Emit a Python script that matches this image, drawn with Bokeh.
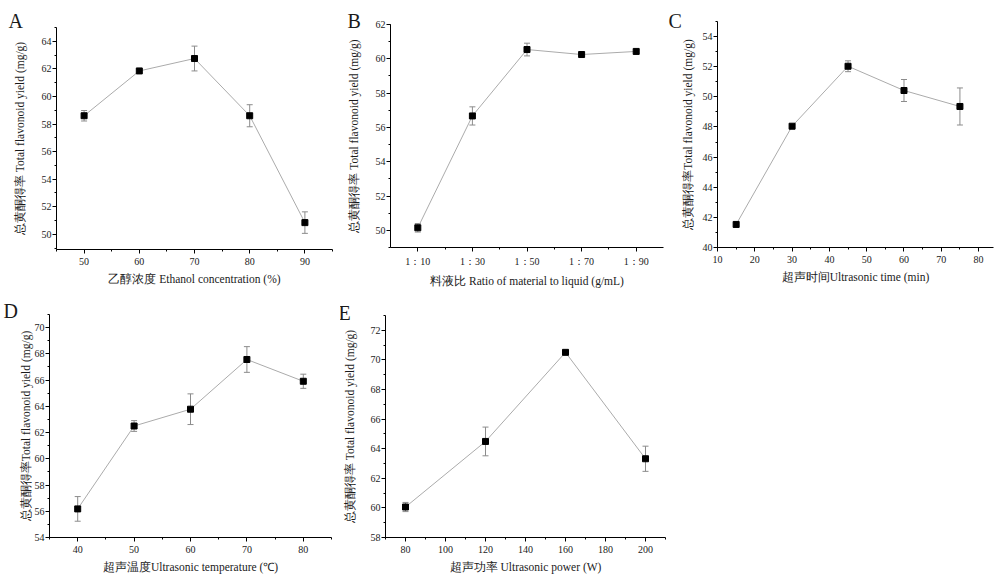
from bokeh.plotting import figure
from bokeh.layouts import column, row
from bokeh.models import (ColumnDataSource, Whisker, TeeHead, Range1d, Title,
                          SingleIntervalTicker, FixedTicker, CustomJSTickFormatter)
from bokeh.embed import file_html
from bokeh.resources import INLINE

# ---- data ----
# A: ethanol concentration
ethanol = [50, 60, 70, 80, 90]
yield_a = [58.6, 61.85, 62.75, 58.6, 50.85]
err_a = [0.38, 0.1, 0.9, 0.8, 0.78]
# B: material-to-liquid ratio
ratio_liquid = [10, 30, 50, 70, 90]
ratio_labels = ["1：10", "1：30", "1：50", "1：70", "1：90"]
yield_b = [50.15, 56.67, 60.54, 60.25, 60.43]
err_b = [0.25, 0.53, 0.37, 0.08, 0.1]
# C: ultrasonic time
time_min = [15, 30, 45, 60, 75]
yield_c = [41.53, 48.05, 52.03, 50.42, 49.36]
err_c = [0.1, 0.1, 0.36, 0.73, 1.23]
# D: ultrasonic temperature
temp_c = [40, 50, 60, 70, 80]
yield_d = [56.18, 62.5, 63.78, 67.57, 65.91]
err_d = [0.94, 0.41, 1.17, 0.98, 0.54]
# E: ultrasonic power
power_w = [80, 120, 160, 200]
yield_e = [60.06, 64.49, 70.51, 63.32]
err_e = [0.31, 0.97, 0.1, 0.85]

FONT = "Liberation Serif"
TXT = "#1a1a1a"
LINE = "#ababab"
ERR = "#8c8c8c"


def panel(letter, x, y, err, xr, yr, xticker, yint, xlabel, ylabel,
          width, height, bl, br, bt, bb, ylab_standoff, letter_dx, letter_dy,
          formatter=None):
    p = figure(width=width, height=height,
               x_range=Range1d(*xr), y_range=Range1d(*yr),
               output_backend="svg", toolbar_location=None,
               min_border_left=bl, min_border_right=br,
               min_border_top=bt, min_border_bottom=bb)
    p.outline_line_color = None
    p.xgrid.visible = False
    p.ygrid.visible = False
    xax = p.xaxis[0]
    yax = p.yaxis[0]
    xax.ticker = xticker
    yax.ticker = SingleIntervalTicker(interval=yint, num_minor_ticks=2)
    if formatter is not None:
        xax.formatter = formatter
    for ax in (xax, yax):
        ax.axis_line_color = "black"
        ax.axis_line_width = 1
        ax.major_tick_line_color = "black"
        ax.minor_tick_line_color = "black"
        ax.major_tick_out = 4
        ax.major_tick_in = 0
        ax.minor_tick_out = 2
        ax.minor_tick_in = 0
        ax.major_label_text_font = FONT
        ax.major_label_text_font_size = "10px"
        ax.major_label_text_color = TXT
        ax.axis_label_text_font = FONT
        ax.axis_label_text_font_size = "11.5px"
        ax.axis_label_text_font_style = "normal"
        ax.axis_label_text_color = TXT
    xax.major_label_standoff = 4
    yax.major_label_standoff = 1
    xax.axis_label = xlabel
    yax.axis_label = ylabel
    xax.axis_label_standoff = 5
    yax.axis_label_standoff = ylab_standoff

    src = ColumnDataSource(dict(
        x=x, y=y,
        upper=[v + e for v, e in zip(y, err)],
        lower=[v - e for v, e in zip(y, err)]))
    wh = Whisker(base="x", upper="upper", lower="lower", source=src,
                 line_color=ERR, line_width=1,
                 upper_head=TeeHead(size=6, line_color=ERR, line_width=1),
                 lower_head=TeeHead(size=6, line_color=ERR, line_width=1))
    p.add_layout(wh)
    p.line("x", "y", source=src, line_color=LINE, line_width=1)
    p.scatter("x", "y", source=src, marker="square", size=6,
              fill_color="black", line_color="black")

    p.title = Title(text=letter, align="left", offset=letter_dx,
                    standoff=letter_dy, vertical_align="bottom",
                    text_font=FONT, text_font_size="20px",
                    text_font_style="normal", text_color=TXT)
    return p


YL = "总黄酮得率 Total flavonoid yield (mg/g)"
YL2 = "总黄酮得率Total flavonoid yield (mg/g)"

ratio_fmt = CustomJSTickFormatter(
    args=dict(vals=ratio_liquid, labs=ratio_labels),
    code="""
const i = vals.indexOf(Math.round(tick));
return i >= 0 ? labs[i] : String(tick);
""")

pA = panel("A", ethanol, yield_a, err_a, (45, 95), (48.9, 65),
           SingleIntervalTicker(interval=10, num_minor_ticks=2), 2,
           "乙醇浓度 Ethanol concentration (%)", YL,
           344, 290, 56, 12, 27, 41, 13, -48, -9)

pB = panel("B", ratio_liquid, yield_b, err_b, (0, 100), (49, 62),
           FixedTicker(ticks=ratio_liquid, minor_ticks=[20, 40, 60, 80]), 2,
           "料液比 Ratio of material to liquid (g/mL)", YL,
           323, 290, 44, 4, 24, 43, 13, -43, -15, formatter=ratio_fmt)

pC = panel("C", time_min, yield_c, err_c, (10, 84), (40, 55),
           SingleIntervalTicker(interval=10, num_minor_ticks=2), 2,
           "超声时间Ultrasonic time (min)", YL2,
           332, 290, 50, 6, 21, 43, 6, -49, -21)

pD = panel("D", temp_c, yield_d, err_d, (35, 85), (54, 71),
           SingleIntervalTicker(interval=10, num_minor_ticks=2), 2,
           "超声温度Ultrasonic temperature (℃)", YL2,
           340, 285, 49, 9, 24, 35, 0, -46, -15)

pE = panel("E", power_w, yield_e, err_e, (70, 210), (58, 73),
           SingleIntervalTicker(interval=20, num_minor_ticks=2), 2,
           "超声功率 Ultrasonic power (W)", YL,
           335, 285, 44, 10, 25, 34, 12, -47, -17)

layout = column(
    row(column(pA), column(pB), column(pC)),
    row(column(pD), column(pE)),
)

open("out.html", "w").write(file_html(layout, INLINE))
